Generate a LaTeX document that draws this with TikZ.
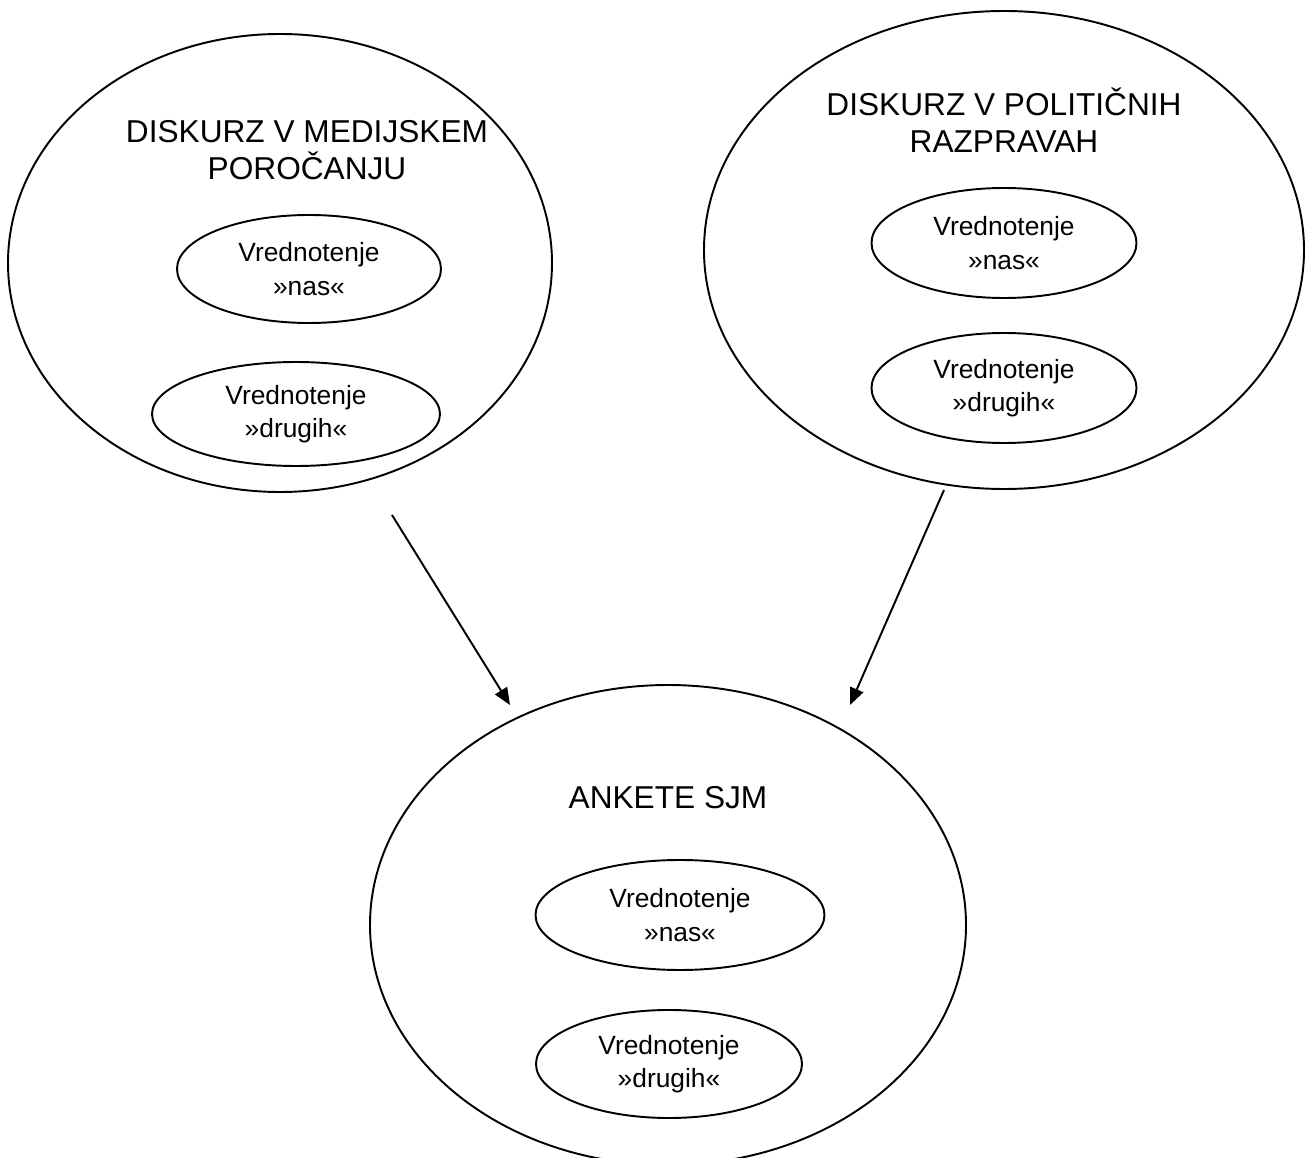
\documentclass[tikz,border=0pt]{standalone}
\usepackage{fontspec}
\setmainfont{Liberation Sans}
\usetikzlibrary{arrows.meta,positioning,shapes.geometric}

\begin{document}
\begin{tikzpicture}[font=\fontsize{15}{19}\selectfont]
\tikzstyle{outer} = [ellipse, draw, line width=1.1pt]
\tikzstyle{inner} = [ellipse, draw, line width=1.1pt, align=center, inner sep=0pt]
\tikzstyle{title} = [align=center, font=\fontsize{18}{21}\selectfont]
\tikzstyle{arrow} = [-{Triangle[length=3.4mm,width=2.8mm]}, line width=1.1pt]
\clip (0,0) rectangle (26.2,-23.16);
\useasboundingbox (0,0) rectangle (26.2,-23.16);
% big ellipses
\node[outer, minimum width=10.88cm, minimum height=9.16cm] (medij) at (5.6,-5.26) {};
\node[outer, minimum width=12cm, minimum height=9.56cm] (polit) at (20.08,-5.0) {};
\node[outer, minimum width=11.92cm, minimum height=9.6cm] (ankete) at (13.36,-18.5) {};
\node[title] (medijT) at (6.14,-3.0) {DISKURZ V MEDIJSKEM\\POROČANJU};
\node[title] (politT) at (20.08,-2.4) {DISKURZ V POLITIČNIH\\RAZPRAVAH};
\node[title] (anketeT) at (13.36,-15.95) {ANKETE SJM};
% inner ellipses
\node[inner, minimum width=5.28cm, minimum height=2.16cm] (medijNas) at (6.18,-5.38) {Vrednotenje\\»nas«};
\node[inner, minimum width=5.76cm, minimum height=2.08cm] (medijDrugi) at (5.92,-8.28) {Vrednotenje\\»drugih«};
\node[inner, minimum width=5.3cm, minimum height=2.2cm] (politNas) at (20.08,-4.86) {Vrednotenje\\»nas«};
\node[inner, minimum width=5.3cm, minimum height=2.2cm] (politDrugi) at (20.08,-7.76) {Vrednotenje\\»drugih«};
\node[inner, minimum width=5.78cm, minimum height=2.2cm] (anketeNas) at (13.6,-18.3) {Vrednotenje\\»nas«};
\node[inner, minimum width=5.32cm, minimum height=2.16cm] (anketeDrugi) at (13.38,-21.28) {Vrednotenje\\»drugih«};
% arrows
\coordinate (medijOut) at (7.84,-10.3);
\coordinate (medijIn) at (10.2,-14.1);
\coordinate (politOut) at (18.88,-9.8);
\coordinate (politIn) at (17.0,-14.1);
\draw[arrow] (medijOut) -- (medijIn);
\draw[arrow] (politOut) -- (politIn);
\end{tikzpicture}
\end{document}
